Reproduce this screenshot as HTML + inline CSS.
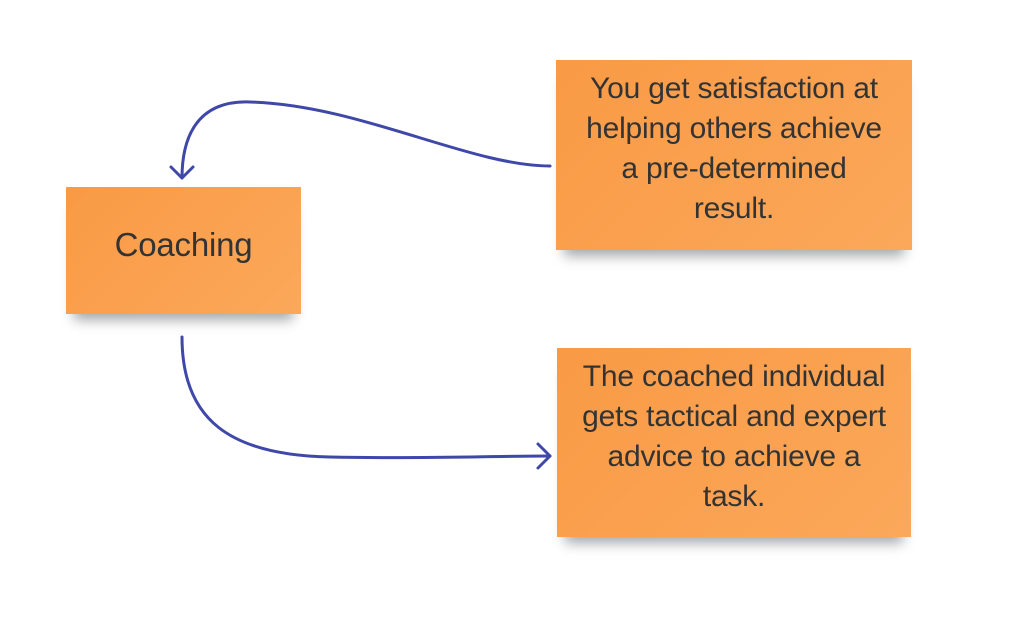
<!DOCTYPE html>
<html><head><style>
body{margin:0;width:1024px;height:643px;background:#fff;position:relative;overflow:hidden;font-family:"Liberation Sans",sans-serif;}
.n{position:absolute;background:linear-gradient(135deg,#f99a45,#fba85a);box-shadow:0 14px 12px -8px rgba(0,0,0,0.35);display:flex;align-items:center;justify-content:center;text-align:center;color:#333;font-size:30px;line-height:40px;letter-spacing:-0.2px;}
.n span{position:relative;top:-6px;}
</style></head><body>
<div class="n" style="left:66px;top:187px;width:235px;height:127px;font-size:33px;"><span>Coaching</span></div>
<div class="n" style="left:556px;top:60px;width:356px;height:190px;"><span>You get satisfaction at<br>helping others achieve<br>a pre-determined<br>result.</span></div>
<div class="n" style="left:557px;top:348px;width:354px;height:189px;"><span>The coached individual<br>gets tactical and expert<br>advice to achieve a<br>task.</span></div>
<svg width="1024" height="643" style="position:absolute;left:0;top:0" fill="none" stroke="#3f48a8" stroke-width="3" stroke-linecap="round" stroke-linejoin="round">
<path d="M550 166 C470 166 360 105 250 102 C195 100 182 140 182 178"/>
<path d="M171 167 L182 178 L193 167"/>
<path d="M182 337 C182 420 230 455 330 457 C420 459 490 456 550 456"/>
<path d="M538 444 L550 456 L538 468"/>
</svg>
</body></html>
